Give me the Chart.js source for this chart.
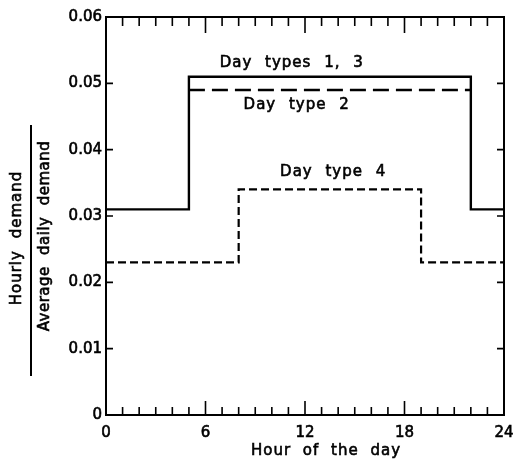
<!DOCTYPE html>
<html>
<head>
<meta charset="utf-8">
<script src="https://cdn.jsdelivr.net/npm/chart.js@4.4.0/dist/chart.umd.min.js"></script>
<style>
  body { margin: 0; background: #fff; }
  canvas { display: block; }
</style>
</head>
<body>
<canvas id="demand" width="515" height="460"></canvas>
<script>
// step profiles: each point starts a level that holds until the next hour
var hours13 = [0, 5, 22, 24];
var demand13 = [0.031, 0.051, 0.031, 0.031];
var hours2 = [5, 22];
var demand2 = [0.049, 0.049];
var hours4 = [0, 8, 19, 24];
var demand4 = [0.023, 0.034, 0.023, 0.023];

var xTickLabels = ['0', '6', '12', '18', '24'];
var yTickLabels = ['0', '0.01', '0.02', '0.03', '0.04', '0.05', '0.06'];

// curve labels: [text, hour, value]
var curveLabels = [
    ['Day types 1, 3', 11.2, 0.0531],
    ['Day type 2', 11.5, 0.0467],
    ['Day type 4', 13.7, 0.0366]
];

var FONT = '15px "DejaVu Sans", sans-serif';

function pts(xs, ys) {
    return xs.map((x, i) => ({x: x, y: ys[i]}));
}

function label(ctx, text, x, y) {
    ctx.fillText(text, x, y);
    ctx.strokeText(text, x, y);
}

// frame, inward ticks, curve labels and axis titles
var decor = {
    id: 'decor',
    afterDatasetsDraw(chart) {
        var ctx = chart.ctx;
        var a = chart.chartArea;
        var sx = chart.scales.x, sy = chart.scales.y;
        ctx.save();
        ctx.strokeStyle = '#000';
        ctx.lineWidth = 2;
        ctx.strokeRect(a.left, a.top, a.right - a.left, a.bottom - a.top);

        ctx.beginPath();
        for (var h = 1; h < 24; h++) {
            var px = sx.getPixelForValue(h);
            var major = h % 6 === 0;
            ctx.moveTo(px, a.bottom);
            ctx.lineTo(px, a.bottom - (major ? 14 : 8));
            ctx.moveTo(px, a.top);
            ctx.lineTo(px, a.top + (major ? 16 : 9));
        }
        for (var v = 1; v < 6; v++) {
            var py = sy.getPixelForValue(v / 100);
            ctx.moveTo(a.left, py);
            ctx.lineTo(a.left + 7, py);
            ctx.moveTo(a.right, py);
            ctx.lineTo(a.right - 7, py);
        }
        ctx.lineWidth = 1.6;
        ctx.stroke();

        ctx.fillStyle = '#000';
        ctx.font = FONT;
        ctx.lineWidth = 0.6;
        ctx.letterSpacing = '1px';
        ctx.wordSpacing = '7px';
        ctx.textAlign = 'center';
        ctx.textBaseline = 'middle';
        curveLabels.forEach(function (l) {
            label(ctx, l[0], sx.getPixelForValue(l[1]), sy.getPixelForValue(l[2]));
        });

        // x axis title
        ctx.wordSpacing = '6px';
        label(ctx, 'Hour of the day', 326, 451);

        // y axis title written as a fraction
        ctx.save();
        ctx.translate(17, 238);
        ctx.rotate(-Math.PI / 2);
        label(ctx, 'Hourly demand', 0, 0);
        ctx.restore();
        ctx.save();
        ctx.translate(45, 236);
        ctx.rotate(-Math.PI / 2);
        ctx.letterSpacing = '0.5px';
        label(ctx, 'Average daily demand', 0, 0);
        ctx.restore();
        ctx.beginPath();
        ctx.moveTo(31, 125);
        ctx.lineTo(31, 376);
        ctx.lineWidth = 2;
        ctx.stroke();
        ctx.restore();
    }
};

var tickFont = { family: '"DejaVu Sans", sans-serif', size: 15 };

var chart = new Chart(document.getElementById('demand'), {
    type: 'line',
    data: {
        datasets: [{
            label: 'Day types 1, 3',
            data: pts(hours13, demand13),
            borderColor: '#000',
            borderWidth: 2.4,
            stepped: 'before'
        }, {
            label: 'Day type 2',
            data: pts(hours2, demand2),
            borderColor: '#000',
            borderWidth: 2.4,
            borderDash: [16, 7]
        }, {
            label: 'Day type 4',
            data: pts(hours4, demand4),
            borderColor: '#000',
            borderWidth: 2.2,
            borderDash: [8, 4],
            stepped: 'before'
        }]
    },
    options: {
        responsive: false,
        animation: false,
        elements: { point: { radius: 0 }, line: { tension: 0 } },
        layout: { padding: { top: 17, right: 11, left: 0, bottom: 0 } },
        plugins: {
            legend: { display: false },
            tooltip: { enabled: false }
        },
        scales: {
            x: {
                type: 'linear',
                min: 0,
                max: 24,
                grid: { display: false, drawTicks: false },
                border: { display: false },
                ticks: {
                    stepSize: 6,
                    padding: 9,
                    color: '#000',
                    textStrokeColor: '#000',
                    textStrokeWidth: 0.6,
                    font: tickFont,
                    maxRotation: 0,
                    callback: (v, i) => xTickLabels[i]
                },
                afterFit: (s) => { s.height = 45; s.paddingLeft = 0; s.paddingRight = 0; }
            },
            y: {
                min: 0,
                max: 0.06,
                grid: { display: false, drawTicks: false },
                border: { display: false },
                ticks: {
                    stepSize: 0.01,
                    padding: 4,
                    color: '#000',
                    textStrokeColor: '#000',
                    textStrokeWidth: 0.6,
                    font: tickFont,
                    callback: (v, i) => yTickLabels[i]
                },
                afterFit: (s) => { s.width = 106; s.paddingTop = 0; s.paddingBottom = 0; }
            }
        }
    },
    plugins: [decor]
});
</script>
</body>
</html>
